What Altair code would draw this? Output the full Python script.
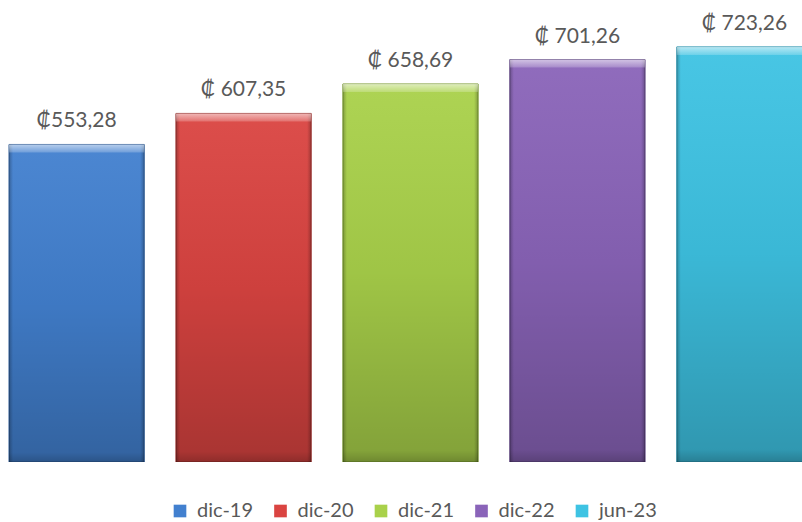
import altair as alt
import pandas as pd

categories = ["dic-19", "dic-20", "dic-21", "dic-22", "jun-23"]
values = [553.28, 607.35, 658.69, 701.26, 723.26]
labels = ["₡553,28", "₡ 607,35", "₡ 658,69", "₡ 701,26", "₡ 723,26"]
colors = ["#4280CF", "#DA4441", "#A9D14A", "#8A64B9", "#3EC3E3"]
strokes = ["#2C5A96", "#9A2E2B", "#7A9A30", "#5E4482", "#2A93AE"]

df = pd.DataFrame({"cat": categories, "value": values, "label": labels})

FONT = "Lato"
TEXT_COLOR = "#595959"

xenc = alt.X("cat:N", sort=categories, axis=None,
             scale=alt.Scale(range=[0, 821], paddingInner=0.19, paddingOuter=0.054))
yscale = alt.Scale(domain=[0, 805], nice=False)
yenc = alt.Y("value:Q", axis=None, scale=yscale)

base = alt.Chart(df)

bars = base.mark_bar(clip=True, strokeWidth=1).encode(
    x=xenc,
    y=yenc,
    color=alt.Color("cat:N", sort=categories,
                    scale=alt.Scale(domain=categories, range=colors),
                    legend=alt.Legend(
                        title=None, orient="none", direction="horizontal",
                        legendX=170, legendY=501, padding=0,
                        symbolType="square", symbolSize=160, symbolStrokeWidth=0,
                        labelFont=FONT, labelFontSize=20, labelColor=TEXT_COLOR,
                        labelOffset=7, columnPadding=16.5)),
    stroke=alt.Stroke("cat:N", sort=categories,
                      scale=alt.Scale(domain=categories, range=strokes), legend=None),
)

vshade = base.mark_bar(clip=True, fill=alt.Gradient(
    gradient="linear", x1=0, x2=0, y1=0, y2=1,
    stops=[alt.GradientStop(color="rgba(255,255,255,0.05)", offset=0),
           alt.GradientStop(color="rgba(0,0,0,0.06)", offset=0.5),
           alt.GradientStop(color="rgba(0,0,0,0.22)", offset=0.97),
           alt.GradientStop(color="rgba(0,0,0,0.35)", offset=1)])).encode(x=xenc, y=yenc)

hshade = base.mark_bar(clip=True, fill=alt.Gradient(
    gradient="linear", x1=0, x2=1, y1=0, y2=0,
    stops=[alt.GradientStop(color="rgba(0,0,0,0.25)", offset=0),
           alt.GradientStop(color="rgba(0,0,0,0)", offset=0.03),
           alt.GradientStop(color="rgba(0,0,0,0)", offset=0.97),
           alt.GradientStop(color="rgba(0,0,0,0.25)", offset=1)])).encode(x=xenc, y=yenc)

topbevel = base.transform_calculate(bev="datum.value - 14").mark_bar(
    clip=True, fill=alt.Gradient(
        gradient="linear", x1=0, x2=0, y1=0, y2=1,
        stops=[alt.GradientStop(color="rgba(255,255,255,0.6)", offset=0),
               alt.GradientStop(color="rgba(255,255,255,0.2)", offset=1)])).encode(
    x=xenc, y=yenc, y2="bev:Q")

text = base.mark_text(font=FONT, fontSize=21, color=TEXT_COLOR,
                      baseline="alphabetic", dy=-17).encode(
    x=xenc, y=yenc, text="label:N")

chart = alt.layer(bars, vshade, hshade, topbevel, text).properties(
    width=802, height=462,
    autosize=alt.AutoSizeParams(type="none"),
    padding={"left": 0, "top": 0, "right": 0, "bottom": 60},
    background="white",
).configure_view(stroke=None)

chart.save("out.html", embed_options={"renderer": "svg", "actions": False})
